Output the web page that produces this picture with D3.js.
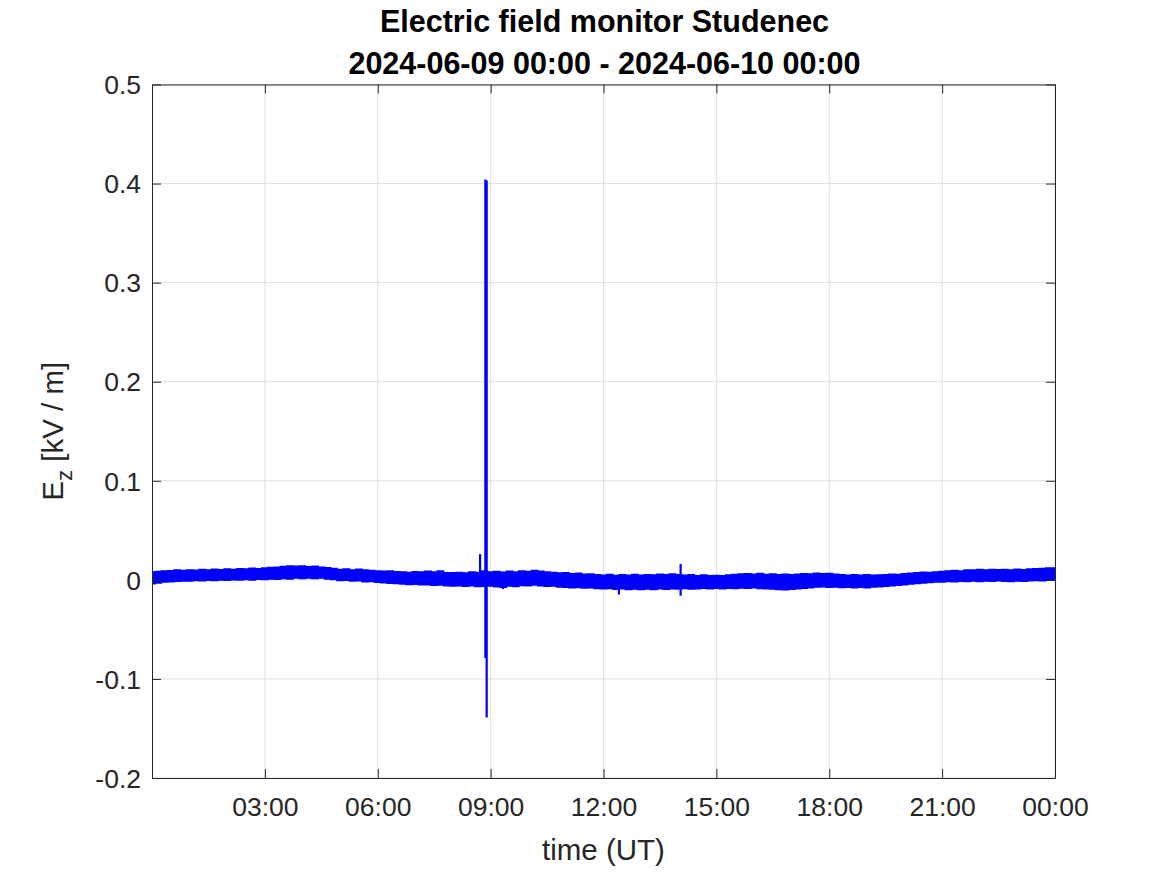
<!DOCTYPE html>
<html>
<head>
<meta charset="utf-8">
<script src="https://cdn.jsdelivr.net/npm/d3@7"></script>
<style>
  html, body { margin: 0; padding: 0; background: #fff; }
  svg { display: block; }
  text { font-family: "Liberation Sans", Arial, Helvetica, sans-serif; }
</style>
</head>
<body>
<svg id="chart" width="1167" height="875"></svg>
<script>
// ---- data (values in kV/m) ----
const titleLines = ["Electric field monitor Studenec", "2024-06-09 00:00 - 2024-06-10 00:00"];
const startTime = "2024-06-09T00:00:00Z";
const endTime = "2024-06-10T00:00:00Z";
// band envelope, one sample every 10 minutes (hours since start = index/6)
const bandStepMinutes = 10;
const bandUpper = [
  0.0078,0.0084,0.0089,0.0091,0.0098,0.0093,0.0099,0.0096,0.0103,0.0100,0.0106,0.0102,
  0.0109,0.0105,0.0112,0.0108,0.0116,0.0111,0.0120,0.0124,0.0128,0.0135,0.0140,0.0136,
  0.0139,0.0132,0.0136,0.0128,0.0122,0.0115,0.0104,0.0108,0.0100,0.0106,0.0098,0.0094,
  0.0090,0.0086,0.0089,0.0081,0.0079,0.0075,0.0082,0.0078,0.0086,0.0080,0.0089,0.0072,
  0.0070,0.0075,0.0069,0.0080,0.0074,0.0088,0.0079,0.0085,0.0076,0.0087,0.0078,0.0090,
  0.0084,0.0094,0.0086,0.0080,0.0074,0.0068,0.0072,0.0062,0.0065,0.0056,0.0059,0.0050,
  0.0046,0.0053,0.0044,0.0050,0.0046,0.0054,0.0047,0.0052,0.0049,0.0056,0.0050,0.0058,
  0.0052,0.0045,0.0050,0.0042,0.0048,0.0040,0.0044,0.0041,0.0049,0.0053,0.0058,0.0062,
  0.0057,0.0063,0.0054,0.0059,0.0051,0.0056,0.0050,0.0057,0.0061,0.0058,0.0065,0.0060,
  0.0064,0.0056,0.0052,0.0047,0.0051,0.0046,0.0050,0.0045,0.0049,0.0052,0.0056,0.0053,
  0.0060,0.0066,0.0070,0.0076,0.0073,0.0080,0.0084,0.0089,0.0094,0.0090,0.0098,0.0100,
  0.0103,0.0099,0.0105,0.0101,0.0104,0.0100,0.0106,0.0102,0.0108,0.0112,0.0115,0.0119,
  0.0120
];
const bandLower = [
  -0.0040,-0.0030,-0.0022,-0.0019,-0.0014,-0.0010,-0.0012,-0.0006,-0.0009,-0.0003,-0.0007,0.0000,
  -0.0004,0.0002,-0.0001,0.0004,0.0000,0.0006,0.0003,0.0008,0.0006,0.0013,0.0010,0.0018,
  0.0014,0.0019,0.0015,0.0018,0.0010,0.0005,-0.0006,-0.0003,-0.0012,-0.0008,-0.0018,-0.0015,
  -0.0024,-0.0028,-0.0033,-0.0036,-0.0042,-0.0046,-0.0043,-0.0050,-0.0048,-0.0054,-0.0051,-0.0060,
  -0.0062,-0.0058,-0.0065,-0.0060,-0.0066,-0.0064,-0.0061,-0.0068,-0.0074,-0.0062,-0.0067,-0.0056,
  -0.0059,-0.0052,-0.0058,-0.0064,-0.0062,-0.0071,-0.0074,-0.0078,-0.0076,-0.0082,-0.0080,-0.0086,
  -0.0089,-0.0087,-0.0094,-0.0090,-0.0098,-0.0093,-0.0096,-0.0091,-0.0097,-0.0090,-0.0094,-0.0088,
  -0.0092,-0.0087,-0.0093,-0.0088,-0.0084,-0.0089,-0.0085,-0.0088,-0.0083,-0.0086,-0.0081,-0.0084,
  -0.0080,-0.0086,-0.0089,-0.0093,-0.0097,-0.0099,-0.0095,-0.0090,-0.0083,-0.0078,-0.0072,-0.0070,
  -0.0074,-0.0071,-0.0077,-0.0075,-0.0079,-0.0074,-0.0078,-0.0072,-0.0070,-0.0065,-0.0060,-0.0054,
  -0.0048,-0.0042,-0.0036,-0.0030,-0.0026,-0.0022,-0.0020,-0.0016,-0.0019,-0.0013,-0.0016,-0.0012,
  -0.0015,-0.0010,-0.0014,-0.0009,-0.0013,-0.0016,-0.0011,-0.0014,-0.0009,-0.0006,-0.0008,-0.0003,
  -0.0004
];
// isolated spikes: time (hours since start), low and high values
const spikeHours = [8.72, 8.86, 8.895, 9.33, 12.41, 14.05];
const spikeLow   = [0.000, -0.079, -0.139, -0.0093, -0.0148, -0.016];
const spikeHigh  = [0.026, 0.404, 0.403, 0.000, 0.000, 0.016];
const yTicks = [-0.2, -0.1, 0, 0.1, 0.2, 0.3, 0.4, 0.5];
const yTickLabels = ["-0.2", "-0.1", "0", "0.1", "0.2", "0.3", "0.4", "0.5"];
const xTickHours = [3, 6, 9, 12, 15, 18, 21, 24];
const xLabel = "time (UT)";
const yLabelMain = "E";
const yLabelSub = "z";
const yLabelRest = " [kV / m]";

// ---- drawing ----
const W = 1167, H = 875;
const m = { left: 152, right: 1055, top: 84.5, bottom: 778 };
const svg = d3.select("#chart");
const t0 = new Date(startTime), t1 = new Date(endTime);
const hourToDate = h => new Date(t0.getTime() + h * 3600e3);

const x = d3.scaleUtc().domain([t0, t1]).range([m.left, m.right]);
const y = d3.scaleLinear().domain([-0.2, 0.5]).range([m.bottom, m.top]);
const axisColor = "#262626";
const gridColor = "#dfdfdf";
const tickFont = 26.5;

// grid
const g = svg.append("g");
const xTickDates = xTickHours.map(hourToDate);
g.selectAll(".vgrid").data(xTickDates).enter().append("line")
  .attr("x1", d => x(d)).attr("x2", d => x(d))
  .attr("y1", m.top).attr("y2", m.bottom)
  .attr("stroke", gridColor).attr("stroke-width", 1);
g.selectAll(".hgrid").data(yTicks).enter().append("line")
  .attr("y1", d => y(d)).attr("y2", d => y(d))
  .attr("x1", m.left).attr("x2", m.right)
  .attr("stroke", gridColor).attr("stroke-width", 1);

// clip
svg.append("clipPath").attr("id", "clip").append("rect")
  .attr("x", m.left).attr("y", m.top).attr("width", m.right - m.left).attr("height", m.bottom - m.top);

const band = bandUpper.map((u, i) => ({ t: hourToDate(i * bandStepMinutes / 60), u, l: bandLower[i] }));
const area = d3.area().x(d => x(d.t)).y0(d => y(d.l)).y1(d => y(d.u)).curve(d3.curveStep);
const dataG = svg.append("g").attr("clip-path", "url(#clip)");
dataG.append("path").datum(band).attr("d", area)
  .attr("fill", "#0000ff").attr("stroke", "#0000ff").attr("stroke-width", 1.6)
  .attr("stroke-linejoin", "miter");

dataG.selectAll(".spike").data(spikeHours).enter().append("line")
  .attr("x1", d => x(hourToDate(d))).attr("x2", d => x(hourToDate(d)))
  .attr("y1", (d, i) => y(spikeLow[i])).attr("y2", (d, i) => y(spikeHigh[i]))
  .attr("stroke", "#0000ff").attr("stroke-width", 2.2);

// axes (MATLAB-like box with inward ticks)
const xAxisB = d3.axisBottom(x).tickValues(xTickDates).tickFormat(d3.utcFormat("%H:%M")).tickSizeInner(-9).tickSizeOuter(0).tickPadding(29);
const xAxisT = d3.axisTop(x).tickValues(xTickDates).tickFormat("").tickSizeInner(-9).tickSizeOuter(0);
const yAxisL = d3.axisLeft(y).tickValues(yTicks).tickFormat((d, i) => yTickLabels[i]).tickSizeInner(-9).tickSizeOuter(0).tickPadding(11);
const yAxisR = d3.axisRight(y).tickValues(yTicks).tickFormat("").tickSizeInner(-9).tickSizeOuter(0);

function styleAxis(sel) {
  sel.select(".domain").attr("stroke", axisColor).attr("stroke-width", 1);
  sel.selectAll(".tick line").attr("stroke", axisColor).attr("stroke-width", 1);
  sel.selectAll(".tick text").attr("fill", axisColor).style("font-size", tickFont + "px")
    .style("font-family", "'Liberation Sans', Arial, sans-serif").attr("dy", "0.35em");
}
svg.append("g").attr("transform", `translate(0,${m.bottom})`).call(xAxisB).call(styleAxis);
svg.append("g").attr("transform", `translate(0,${m.top})`).call(xAxisT).call(styleAxis);
svg.append("g").attr("transform", `translate(${m.left},0)`).call(yAxisL).call(styleAxis);
svg.append("g").attr("transform", `translate(${m.right},0)`).call(yAxisR).call(styleAxis);

// titles
svg.append("text").attr("x", (m.left + m.right) / 2 + 1).attr("y", 32)
  .attr("text-anchor", "middle").attr("font-weight", "bold").attr("font-size", 30.5).attr("fill", "#000")
  .text(titleLines[0]);
svg.append("text").attr("x", (m.left + m.right) / 2 + 1).attr("y", 74)
  .attr("text-anchor", "middle").attr("font-weight", "bold").attr("font-size", 30.5).attr("fill", "#000")
  .text(titleLines[1]);

// x label
svg.append("text").attr("x", (m.left + m.right) / 2).attr("y", 860)
  .attr("text-anchor", "middle").attr("font-size", 29.5).attr("fill", axisColor).text(xLabel);

// y label
const yl = svg.append("text").attr("transform", `translate(63,${(m.top + m.bottom) / 2}) rotate(-90)`)
  .attr("text-anchor", "middle").attr("font-size", 29.5).attr("fill", axisColor);
yl.append("tspan").text(yLabelMain);
yl.append("tspan").attr("dy", 9).attr("font-size", 22).text(yLabelSub);
yl.append("tspan").attr("dy", -9).text(yLabelRest);
</script>
</body>
</html>
